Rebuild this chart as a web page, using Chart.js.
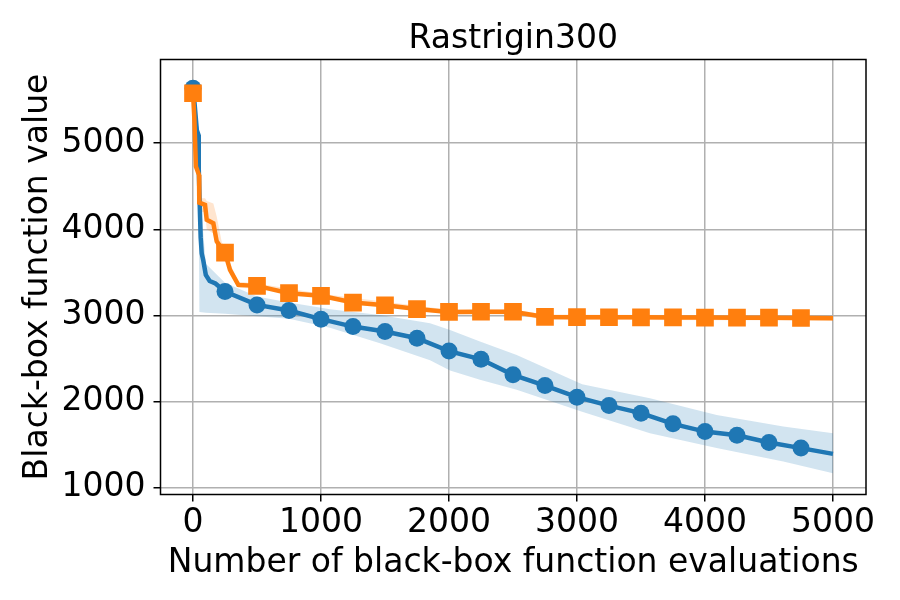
<!DOCTYPE html>
<html>
<head>
<meta charset="utf-8">
<script src="https://cdn.jsdelivr.net/npm/chart.js@4/dist/chart.umd.min.js"></script>
<style>
  body { margin: 0; background: #fff; }
</style>
</head>
<body>
<canvas id="chart" width="900" height="600"></canvas>
<script>
// values
const chartTitle = "Rastrigin300";
const xTicks = [0, 1000, 2000, 3000, 4000, 5000];
const yTicks = [1000, 2000, 3000, 4000, 5000];

const blueX = [0, 10, 30, 42, 45, 52, 60, 68, 80, 100, 130, 175, 250, 500, 750, 1000, 1250, 1500, 1750, 2000, 2250, 2500, 2750, 3000, 3250, 3500, 3750, 4000, 4250, 4500, 4750, 5000];
const blueY = [5640, 5500, 5150, 5100, 4700, 4300, 3900, 3720, 3640, 3470, 3400, 3370, 3277, 3122, 3056, 2956, 2870, 2812, 2735, 2585, 2490, 2309, 2185, 2050, 1952, 1864, 1740, 1650, 1608, 1523, 1458, 1391];

const blueBandX = [0, 30, 45, 50, 100, 250, 500, 750, 1000, 1070, 1461, 1852, 2008, 2242, 2529, 3040, 3570, 4091, 4612, 5000];
const blueLow = [5600, 4900, 4100, 3040, 3030, 3020, 2990, 2960, 2880, 2855, 2677, 2480, 2360, 2251, 2135, 1880, 1632, 1458, 1302, 1167];
const blueHigh = [5700, 5300, 5150, 4500, 3600, 3380, 3220, 3150, 3090, 3072, 3005, 2909, 2830, 2696, 2541, 2200, 2038, 1844, 1708, 1632];

const orangeX = [0, 10, 23, 47, 49, 94, 107, 159, 185, 250, 289, 354, 500, 750, 1000, 1250, 1500, 1750, 2000, 2250, 2500, 2750, 3000, 3250, 3500, 3750, 4000, 4250, 4500, 4750, 5000];
const orangeY = [5581, 5300, 4730, 4630, 4310, 4283, 4110, 4070, 3860, 3729, 3530, 3354, 3343, 3258, 3227, 3149, 3118, 3073, 3040, 3042, 3042, 2982, 2979, 2978, 2977, 2976, 2975, 2974, 2973, 2970, 2968];

const orangeBandX = [0, 47, 50, 94, 107, 159, 185, 225, 250, 300, 354, 500, 1000, 2000, 2500, 2750, 5000];
const orangeLow = [5560, 4550, 4200, 4200, 4000, 3950, 3780, 3650, 3650, 3480, 3320, 3310, 3200, 3010, 3010, 2950, 2940];
const orangeHigh = [5600, 4700, 4360, 4360, 4330, 4300, 4150, 3850, 3800, 3570, 3390, 3370, 3250, 3065, 3070, 3010, 3000];

const BLUE = "#1f77b4";
const ORANGE = "#ff7f0e";
const FONT = { family: "'DejaVu Sans'", size: 33 };

function pts(xs, ys) {
    return xs.map(function(x, i) { return { x: x, y: ys[i] }; });
}

// markers every 250 evaluations
function markerRadius(r) {
    return function(ctx) {
        const x = ctx.raw.x;
        return (x % 250 === 0 && x < 5000) ? r : 0;
    };
}

// box round the plot and the title centred over it
const frame = {
    id: "frame",
    afterDatasetsDraw(chart) {
        const a = chart.chartArea;
        const c = chart.ctx;
        c.save();
        c.strokeStyle = "#000";
        c.lineWidth = 1.5;
        c.strokeRect(a.left, a.top, a.right - a.left, a.bottom - a.top);
        c.fillStyle = "#000";
        c.font = "33px 'DejaVu Sans'";
        c.textAlign = "center";
        c.textBaseline = "alphabetic";
        c.fillText(chartTitle, (a.left + a.right) / 2, 47.5);
        c.restore();
    }
};

new Chart(document.getElementById("chart"), {
    type: "line",
    data: {
        datasets: [
            { data: pts(blueBandX, blueLow), borderWidth: 0, pointRadius: 0, fill: false, order: 4 },
            { data: pts(blueBandX, blueHigh), borderWidth: 0, pointRadius: 0, fill: "-1", backgroundColor: "rgba(31,119,180,0.2)", order: 4 },
            { data: pts(orangeBandX, orangeLow), borderWidth: 0, pointRadius: 0, fill: false, order: 3 },
            { data: pts(orangeBandX, orangeHigh), borderWidth: 0, pointRadius: 0, fill: "-1", backgroundColor: "rgba(255,127,14,0.2)", order: 3 },
            {
                data: pts(blueX, blueY), borderColor: BLUE, borderWidth: 4.5,
                pointStyle: "circle", pointRadius: markerRadius(8.5),
                pointBackgroundColor: BLUE, pointBorderColor: BLUE, pointBorderWidth: 0, order: 2
            },
            {
                data: pts(orangeX, orangeY), borderColor: ORANGE, borderWidth: 4.5,
                pointStyle: "rect", pointRadius: markerRadius(12.5),
                pointBackgroundColor: ORANGE, pointBorderColor: ORANGE, pointBorderWidth: 0, order: 1
            }
        ]
    },
    options: {
        responsive: false,
        animation: false,
        layout: { padding: { top: 59.5, right: 34 } },
        plugins: {
            legend: { display: false },
            tooltip: { enabled: false }
        },
        scales: {
            x: {
                type: "linear", min: -254, max: 5258,
                afterBuildTicks: function(s) { s.ticks = xTicks.map(function(v) { return { value: v }; }); },
                afterFit: function(s) { s.height = 105.5; },
                grid: { color: "#b0b0b0", lineWidth: 1.5, tickColor: "#000", tickWidth: 1.5, tickLength: 7 },
                border: { display: false },
                ticks: { color: "#000", font: FONT, padding: 2, maxRotation: 0, callback: function(v) { return String(v); } },
                title: { display: true, text: "Number of black-box function evaluations", color: "#000", font: FONT, padding: { bottom: 17, top: 0 } }
            },
            y: {
                type: "linear", min: 919, max: 5973,
                afterBuildTicks: function(s) { s.ticks = yTicks.map(function(v) { return { value: v }; }); },
                afterFit: function(s) { s.width = 160.5; },
                grid: { color: "#b0b0b0", lineWidth: 1.5, tickColor: "#000", tickWidth: 1.5, tickLength: 7 },
                border: { display: false },
                ticks: { color: "#000", font: FONT, padding: 8, callback: function(v) { return String(v); } },
                title: { display: true, text: "Black-box function value", color: "#000", font: FONT, padding: { top: 19, bottom: 0 } }
            }
        }
    },
    plugins: [frame]
});
</script>
</body>
</html>
